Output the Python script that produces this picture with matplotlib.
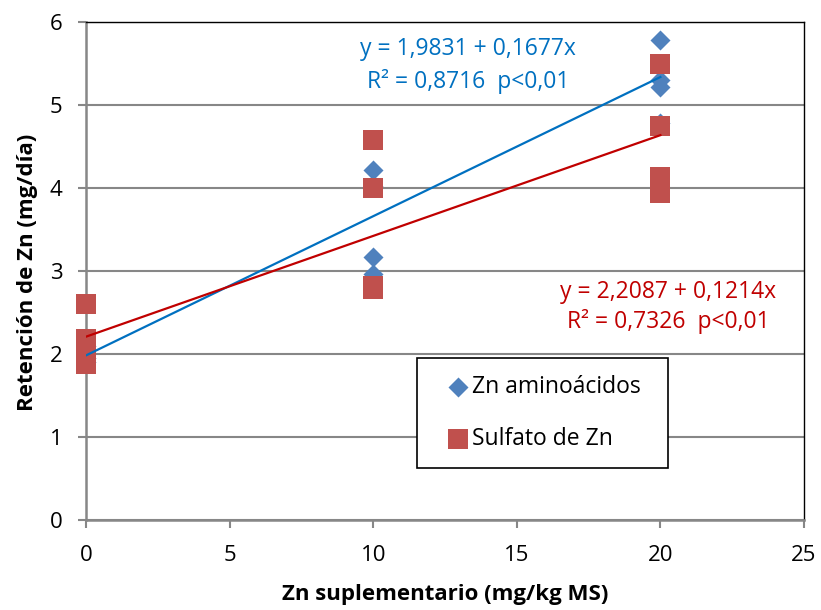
import numpy as np
import matplotlib.pyplot as plt
from matplotlib.patches import Rectangle

plt.rcParams['font.family'] = ['Open Sans', 'DejaVu Sans']

# datos
x_amino = [0, 0, 0, 10, 10, 10, 10, 20, 20, 20, 20]
y_amino = [2.10, 1.95, 1.90, 4.22, 4.02, 3.17, 2.96, 5.78, 5.22, 4.78, 5.30]
x_sulf = [0, 0, 0, 0, 10, 10, 10, 10, 20, 20, 20, 20]
y_sulf = [2.60, 2.18, 2.05, 1.88, 4.58, 4.00, 2.82, 2.78, 5.50, 4.75, 4.13, 3.94]

# coeficientes de regresion (y = a + b x)
a_amino, b_amino = 1.9831, 0.1677
a_sulf, b_sulf = 2.2087, 0.1214
x_fit = np.array([0, 20])

xticks = [0, 5, 10, 15, 20, 25]
yticks = [0, 1, 2, 3, 4, 5, 6]

c_amino, c_sulf = '#4F81BD', '#C0504D'
c_line_amino, c_line_sulf = '#0070C0', '#C00000'
grid_c = '#878787'
fs = 16.5

W, H = 821, 610
fig = plt.figure(figsize=(W / 100, H / 100), dpi=100)
ax = fig.add_axes([86 / W, 1 - 520 / H, (804 - 86) / W, (520 - 22) / H])


def px(x, y):
    # pixel de la figura -> coordenadas de ejes
    return (x - 86) / 718, (520 - y) / 498


ax.scatter(x_amino, y_amino, marker='D', s=10.2 ** 2, color=c_amino,
           linewidths=0, zorder=3, clip_on=False, label='Zn aminoácidos')
ax.scatter(x_sulf, y_sulf, marker='s', s=14.4 ** 2, color=c_sulf,
           linewidths=0, zorder=4, clip_on=False, label='Sulfato de Zn')
ax.plot(x_fit, a_amino + b_amino * x_fit, color=c_line_amino, lw=1.6, zorder=5)
ax.plot(x_fit, a_sulf + b_sulf * x_fit, color=c_line_sulf, lw=1.6, zorder=5)

ax.set_xlim(0, 25)
ax.set_ylim(0, 6)
ax.set_xticks(xticks)
ax.set_yticks(yticks)
ax.yaxis.grid(True, color=grid_c, lw=1.5)
ax.set_axisbelow(True)

for s in ['left', 'bottom']:
    ax.spines[s].set_color(grid_c)
    ax.spines[s].set_linewidth(1.8)
for s in ['top', 'right']:
    ax.spines[s].set_color('black')
    ax.spines[s].set_linewidth(1.0)

ax.tick_params(axis='both', colors=grid_c, labelcolor='black', length=6,
               width=1.5, labelsize=16)
ax.tick_params(axis='x', pad=12)
ax.tick_params(axis='y', pad=11)

ax.set_xlabel('Zn suplementario (mg/kg MS)', fontsize=16, fontweight='bold')
ax.set_ylabel('Retención de Zn (mg/día)', fontsize=16, fontweight='bold')
ax.xaxis.set_label_coords(*px(445, 584))
ax.yaxis.set_label_coords(*px(38, 272))

# leyenda con marco dibujado aparte
leg = ax.legend(loc='center left', bbox_to_anchor=px(444, 413),
                fontsize=fs, frameon=False, borderpad=0, borderaxespad=0,
                labelspacing=1.25, handletextpad=0.0, handlelength=1.2)
x0, y0 = px(417, 468)
x1, y1 = px(668, 358)
ax.add_patch(Rectangle((x0, y0), x1 - x0, y1 - y0, transform=ax.transAxes,
                       facecolor='white', edgecolor='black', lw=1.2, zorder=6))
leg.set_zorder(7)

# ecuaciones
fig.text(468 / W, 1 - 49 / H, 'y = 1,9831 + 0,1677x', color=c_line_amino,
         fontsize=fs, ha='center', va='center')
fig.text(468 / W, 1 - 81 / H, 'R² = 0,8716  p<0,01', color=c_line_amino,
         fontsize=fs, ha='center', va='center')
fig.text(668 / W, 1 - 292 / H, 'y = 2,2087 + 0,1214x', color=c_line_sulf,
         fontsize=fs, ha='center', va='center')
fig.text(668 / W, 1 - 322 / H, 'R² = 0,7326  p<0,01', color=c_line_sulf,
         fontsize=fs, ha='center', va='center')

fig.savefig('out.png', dpi=100)
